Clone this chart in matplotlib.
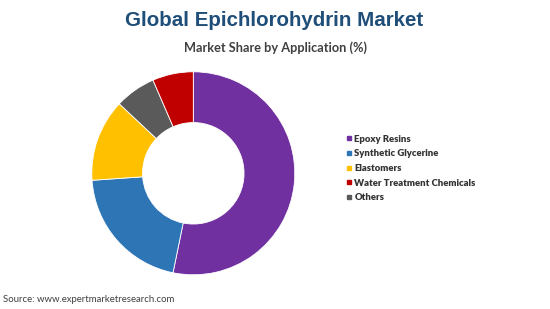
import matplotlib
matplotlib.use("Agg")
import matplotlib.pyplot as plt
from matplotlib.lines import Line2D

# Data (drawn clockwise from top)
categories = ["Epoxy Resins", "Synthetic Glycerine", "Elastomers", "Others", "Water Treatment Chemicals"]
shares = [53.2, 20.7, 13.1, 6.5, 6.5]
colors = ["#7030A0", "#2E75B6", "#FFC000", "#5A5A5A", "#C00000"]
legend_order = ["Epoxy Resins", "Synthetic Glycerine", "Elastomers", "Water Treatment Chemicals", "Others"]

title = "Global Epichlorohydrin Market"
subtitle = "Market Share by Application (%)"
source = "Source: www.expertmarketresearch.com"

W, H = 550, 309
fig = plt.figure(figsize=(W / 100, H / 100), dpi=100)
fig.patch.set_facecolor("white")

cx, cy, r = 193.3, 173.3, 101.5
ax = fig.add_axes([(cx - r) / W, (H - cy - r) / H, 2 * r / W, 2 * r / H])
ax.pie(shares, colors=colors, startangle=90, counterclock=False, radius=1,
       wedgeprops=dict(width=0.5, edgecolor="white", linewidth=0.6))
ax.set_xlim(-1.0, 1.0)
ax.set_ylim(-1.0, 1.0)
ax.set_aspect("equal")
ax.axis("off")

fig.text(274 / W, 1 - 20 / H, title, ha="center", va="center",
         fontsize=14.8, fontweight="bold", color="#1F4E79", family="Liberation Sans")
fig.text(275 / W, 1 - 48 / H, subtitle, ha="center", va="center",
         fontsize=9.2, fontweight="bold", color="#404040", family="Lato")
fig.text(3 / W, 1 - 300 / H, source, ha="left", va="center",
         fontsize=6.9, color="#404040", family="Lato")

cmap = dict(zip(categories, colors))
handles = [Line2D([0], [0], marker="s", linestyle="none", markersize=3.2,
                  markerfacecolor=cmap[c], markeredgecolor=cmap[c]) for c in legend_order]
leg = fig.legend(handles, legend_order, loc="center left",
                 bbox_to_anchor=(342 / W, 1 - 168.5 / H), frameon=False,
                 handlelength=0.6, handletextpad=0.3, labelspacing=0.6,
                 borderaxespad=0, prop=dict(family="Lato", weight="heavy", size=6.8))
for t in leg.get_texts():
    t.set_color("#333333")

fig.savefig("out.png", dpi=100, facecolor="white")
